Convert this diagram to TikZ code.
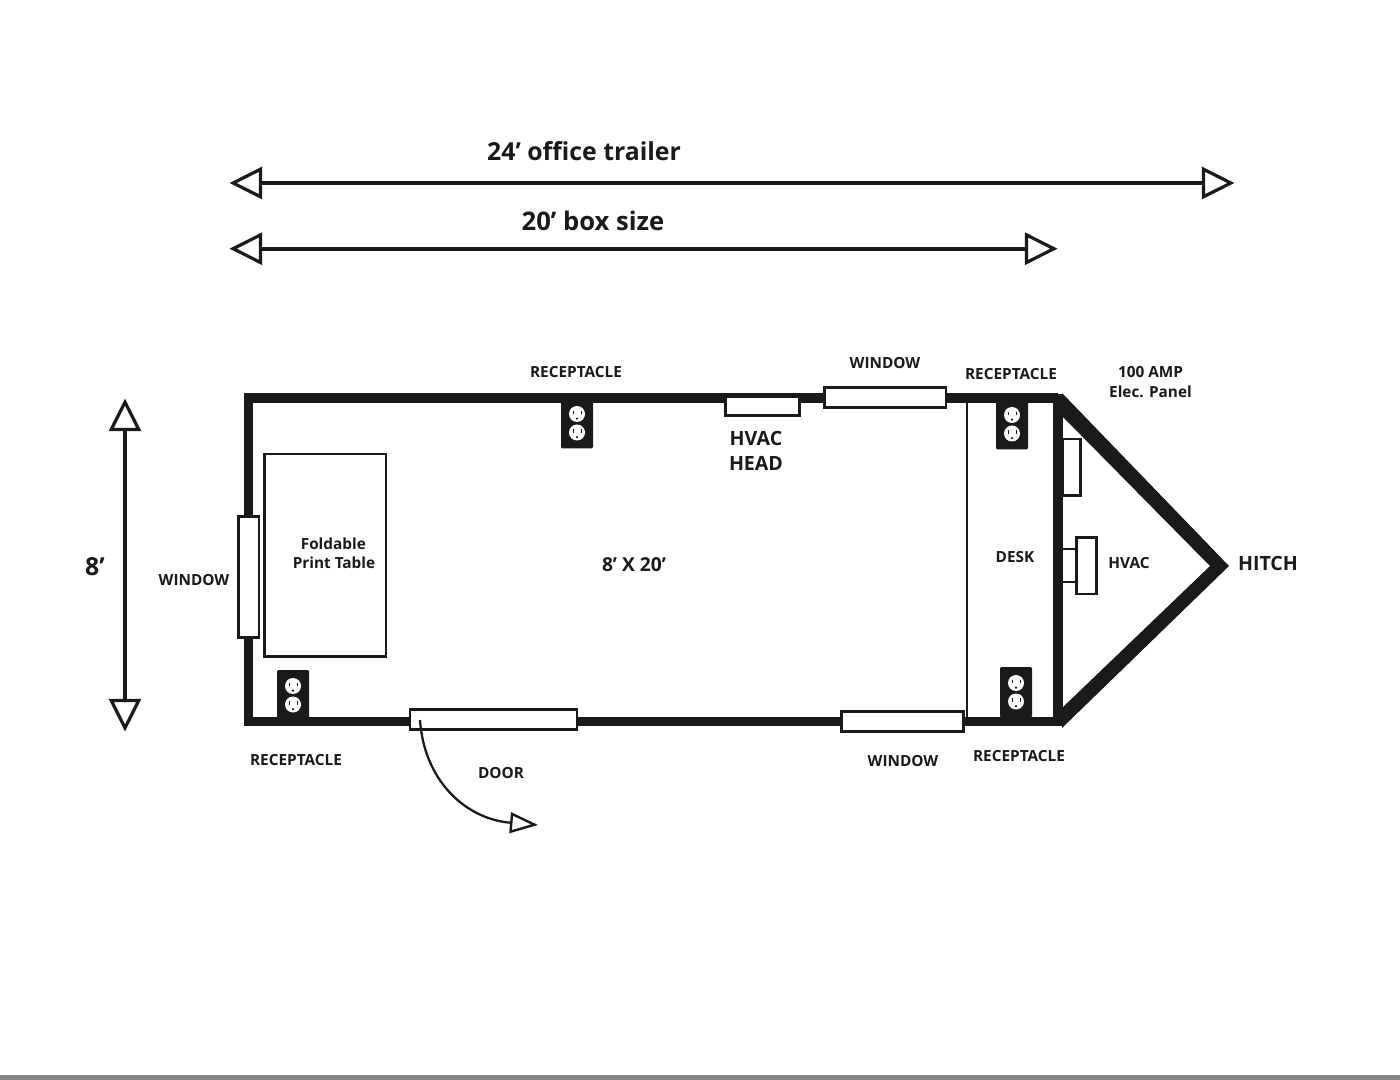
\documentclass[tikz,border=0pt]{standalone}
\usepackage{fontspec}
\setmainfont{Open Sans}
\usetikzlibrary{arrows.meta}
\definecolor{ink}{HTML}{1A1A1A}
\newcommand{\fs}[1]{\fontsize{#1}{#1}\selectfont}
\tikzset{
 x=0.75pt,y=-0.75pt,
 wall/.style={draw=ink,line width=6.8pt,line cap=butt,line join=miter},
 box/.style={draw=ink,fill=white,line width=2.2pt},
 thin box/.style={draw=ink,line width=1.7pt},
 dim/.style={draw=ink,line width=2.9pt,{Triangle[open,length=24.5pt,width=24pt,line width=2.4pt]}-{Triangle[open,length=24.5pt,width=24pt,line width=2.4pt]}},
 lab/.style={font=\bfseries\fs{11.5},text=ink,inner sep=0pt,align=center},
 bigl/.style={font=\bfseries\fs{18.6},text=ink,inner sep=0pt},
 midl/.style={font=\bfseries\fs{14.7},text=ink,inner sep=0pt,align=center},
 outletplate/.style={fill=ink,rounded corners=1pt},
 outletface/.style={fill=white,draw=none},
}
\newcommand{\outlet}[2]{%
 \fill[outletplate] (#1,#2) rectangle ++(32,50.5);
 \foreach \dy in {16,34.5}{
  \fill[outletface] (#1+16,#2+\dy) circle[radius=8];
  \fill[ink] (#1+11.6,#2+\dy-3.2) rectangle ++(0.9,3.6);
  \fill[ink] (#1+19.5,#2+\dy-3.2) rectangle ++(0.9,3.6);
  \fill[ink] (#1+16,#2+\dy+4.6) circle[radius=1.2];
 }}
\begin{document}
\begin{tikzpicture}
\useasboundingbox (0,0) rectangle (1400,1080);
\fill[white] (0,0) rectangle (1400,1080);
\fill[gray!95] (0,1075) rectangle (1400,1080);
% dimension lines
\coordinate (a1) at (229.5,183); \coordinate (a2) at (1234.5,183);
\coordinate (b1) at (229.5,248.7); \coordinate (b2) at (1057.5,248.7);
\coordinate (c1) at (125,398.5); \coordinate (c2) at (125,731.5);
\draw[dim] (a1) -- (a2);
\draw[dim] (b1) -- (b2);
\draw[dim] (c1) -- (c2);
\node[bigl] at (584,151) {24’ office trailer};
\node[bigl,font=\bfseries\fs{19.2}] at (593,221) {20’ box size};
\node[bigl] at (95,567) {8’};
% desk divider
\draw[draw=ink,line width=1.5pt] (966.5,400) -- (966.5,720);
% walls
\draw[wall] (1058,398) -- (248.5,398) -- (248.5,721.5) -- (1058,721.5);
\draw[draw=ink,line width=7.5pt] (1058,394) -- (1058,726);
\fill[ink] (1062,393) -- (1229,566) -- (1062,728) -- (1062,708) -- (1210,566) -- (1062,416) -- cycle;
% outlets
\outlet{561}{398}
\outlet{996}{399}
\outlet{1000}{667}
\outlet{277}{670}
% windows and fixtures
\draw[box] (824.5,387.5) rectangle (946,407.5);
\draw[box] (725.5,396.5) rectangle (799.5,415.5);
\draw[box] (238.5,516.5) rectangle (259,637.5);
\draw[box] (841.5,711.5) rectangle (963.5,731.5);
\draw[box] (410,709.5) rectangle (577,729.5);
\draw[thin box] (264.5,454) rectangle (386,656.5);
\draw[box] (1063,439) rectangle (1080.5,495.5);
\draw[thin box] (1063,549) -- (1077,549);
\draw[thin box] (1063,582) -- (1077,582);
\draw[box] (1076.5,537.5) rectangle (1096.5,594);
% door swing
\coordinate (d1) at (420,720); \coordinate (d2) at (538,825);
\draw[draw=ink,line width=1.7pt,-{Triangle[open,length=21pt,width=15.5pt,line width=1.8pt]}] (d1) .. controls (424,780) and (465,819) .. (d2);
% labels
\node[lab] at (576,372) {RECEPTACLE};
\node[lab] at (885,363) {WINDOW};
\node[lab] at (1011,374) {RECEPTACLE};
\node[lab] at (1150.5,382) {100 AMP\\[3pt]Elec. Panel};
\node[midl] at (756,451) {HVAC\\[3.5pt]HEAD};
\node[lab] at (1015,557) {DESK};
\node[lab] at (1129,563) {HVAC};
\node[bigl,font=\bfseries\fs{14.7}] at (1268,563) {HITCH};
\node[lab] at (634,565) {\fs{14.4}8’ X 20’};
\node[lab] at (334,553) {\hspace*{-1pt}Foldable\\[3pt]Print Table};
\node[lab] at (194,580) {WINDOW};
\node[lab] at (296,760) {RECEPTACLE};
\node[lab] at (501,773) {DOOR};
\node[lab] at (903,761) {WINDOW};
\node[lab] at (1019,756) {RECEPTACLE};
\end{tikzpicture}
\end{document}
